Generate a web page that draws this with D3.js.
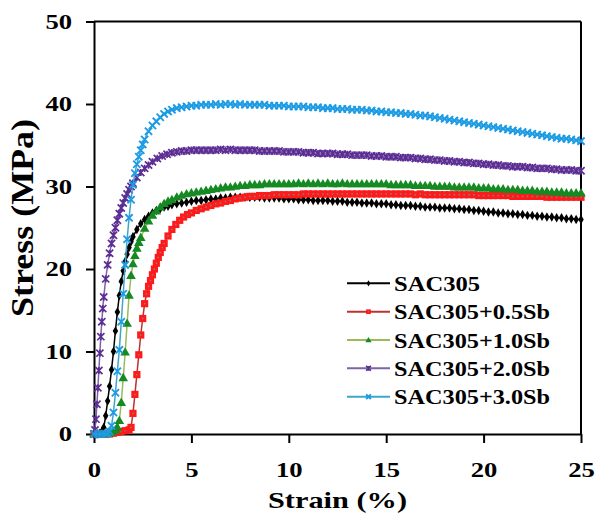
<!DOCTYPE html>
<html>
<head>
<meta charset="utf-8">
<script src="https://cdn.jsdelivr.net/npm/d3@7"></script>
<style>
  html, body { margin: 0; padding: 0; background: #fff; }
  svg { display: block; }
  text { font-family: "Liberation Serif", "Times New Roman", "DejaVu Serif Condensed", "DejaVu Serif", serif; font-weight: bold; fill: #000; }
</style>
</head>
<body>
<svg id="chart" width="598" height="516"></svg>
<script>
// ---- data: tensile stress-strain curves of SAC305 solder with Sb additions ----
const seriesNames = ["SAC305", "SAC305+0.5Sb", "SAC305+1.0Sb", "SAC305+2.0Sb", "SAC305+3.0Sb"];
const xTicks = [0, 5, 10, 15, 20, 25];
const yTicks = [0, 10, 20, 30, 40, 50];

// common strain grid (%) for the flow (plateau) part of every curve
const plateauStrain = [5.25,5.5,5.75,6,6.25,6.5,6.75,7,7.25,7.5,7.75,8,8.25,8.5,8.75,9,9.25,9.5,9.75,10,
  10.25,10.5,10.75,11,11.25,11.5,11.75,12,12.25,12.5,12.75,13,13.25,13.5,13.75,14,14.25,14.5,14.75,15,
  15.25,15.5,15.75,16,16.25,16.5,16.75,17,17.25,17.5,17.75,18,18.25,18.5,18.75,19,19.25,19.5,19.75,20,
  20.25,20.5,20.75,21,21.25,21.5,21.75,22,22.25,22.5,22.75,23,23.25,23.5,23.75,24,24.25,24.5,24.75,25];

// SAC305
const sac305RiseStrain = [0,0.1,0.2,0.3,0.4,0.5,0.6,0.7,0.8,0.9,1.0,1.1,1.2,1.3,1.4,1.5,1.6,1.7,1.8,1.9,2.0,2.2,2.4,2.6,2.8,3.0,3.2,3.4,3.6,3.8,4.0,4.25,4.5,4.75,5.0];
const sac305RiseStress = [0,0,0,0.1,0.3,0.8,2.2,4.0,5.8,7.8,10.0,12.5,14.8,16.8,18.5,19.8,20.9,21.8,22.6,23.3,23.9,24.8,25.5,26.0,26.4,26.8,27.1,27.3,27.5,27.6,27.8,27.9,28.0,28.1,28.2];
const sac305Plateau = [28.3,28.3,28.4,28.5,28.5,28.6,28.6,28.7,28.7,28.7,28.7,28.7,28.7,28.7,28.6,28.6,28.6,28.6,28.5,28.5,
  28.5,28.4,28.4,28.4,28.3,28.3,28.3,28.3,28.2,28.2,28.2,28.1,28.1,28.1,28.0,28.0,28.0,27.9,27.9,27.9,
  27.8,27.8,27.7,27.7,27.7,27.6,27.6,27.5,27.5,27.5,27.4,27.4,27.4,27.3,27.3,27.2,27.2,27.1,27.1,27.0,
  26.9,26.9,26.8,26.8,26.7,26.7,26.6,26.6,26.5,26.5,26.4,26.4,26.3,26.3,26.2,26.2,26.1,26.1,26.0,26.0];

// SAC305+0.5Sb
const sb05RiseStrain = [0,0.2,0.4,0.6,0.8,1.0,1.2,1.4,1.6,1.8,1.9,2.0,2.1,2.2,2.3,2.4,2.5,2.6,2.7,2.8,2.9,3.0,3.1,3.2,3.3,3.4,3.5,3.6,3.8,4.0,4.2,4.4,4.6,4.8,5.0];
const sb05RiseStress = [0,0,0,0,0,0.1,0.2,0.3,0.4,0.5,0.8,2.5,4.8,7.2,9.6,12.0,14.0,15.8,17.0,17.9,18.6,19.3,20.0,20.7,21.4,22.0,22.6,23.1,24.0,24.8,25.4,25.9,26.3,26.6,26.8];
const sb05Plateau = [27.1,27.3,27.5,27.7,27.9,28.0,28.2,28.3,28.5,28.6,28.7,28.8,28.8,28.9,28.9,28.9,29.0,29.0,29.0,29.0,
  29.0,29.0,29.1,29.1,29.1,29.1,29.1,29.1,29.1,29.1,29.1,29.1,29.1,29.1,29.1,29.1,29.1,29.1,29.1,29.1,
  29.1,29.1,29.1,29.1,29.1,29.0,29.1,29.0,29.0,29.0,29.0,29.0,29.0,29.0,29.0,29.0,29.0,29.0,28.9,28.9,
  28.9,28.9,28.9,28.9,28.9,28.8,28.8,28.8,28.8,28.8,28.8,28.8,28.7,28.7,28.7,28.7,28.7,28.7,28.7,28.7];

// SAC305+1.0Sb
const sb10RiseStrain = [0,0.2,0.4,0.6,0.8,1.0,1.1,1.2,1.3,1.4,1.5,1.6,1.7,1.8,1.9,2.0,2.1,2.2,2.3,2.4,2.6,2.8,3.0,3.2,3.4,3.6,3.8,4.0,4.25,4.5,4.75,5.0];
const sb10RiseStress = [0,0,0,0,0.1,0.3,0.5,0.8,1.6,3.8,6.8,9.9,13.4,16.8,19.2,20.6,21.6,22.5,23.2,23.8,24.9,25.8,26.5,27.0,27.5,27.9,28.2,28.4,28.7,28.9,29.1,29.2];
const sb10Plateau = [29.3,29.4,29.5,29.6,29.7,29.8,29.9,29.9,30.0,30.1,30.1,30.2,30.2,30.2,30.3,30.3,30.3,30.3,30.3,30.3,
  30.3,30.4,30.3,30.4,30.3,30.4,30.3,30.4,30.3,30.3,30.4,30.3,30.3,30.3,30.3,30.3,30.3,30.3,30.3,30.3,
  30.2,30.2,30.2,30.2,30.2,30.1,30.1,30.1,30.1,30.0,30.0,30.0,30.0,29.9,29.9,29.9,29.9,29.9,29.8,29.8,
  29.8,29.7,29.7,29.7,29.6,29.6,29.6,29.5,29.5,29.5,29.4,29.4,29.4,29.3,29.3,29.3,29.2,29.2,29.2,29.2];

// SAC305+2.0Sb
const sb20RiseStrain = [0,0.05,0.1,0.15,0.2,0.25,0.3,0.35,0.4,0.45,0.5,0.6,0.7,0.8,0.9,1.0,1.1,1.2,1.3,1.4,1.5,1.6,1.7,1.8,1.9,2.0,2.2,2.4,2.6,2.8,3.0,3.25,3.5,3.75,4.0,4.25,4.5,4.75,5.0];
const sb20RiseStress = [0,0.5,1.8,3.6,5.6,7.7,9.8,11.8,13.6,15.2,16.6,18.8,20.5,21.9,23.1,24.1,25.0,25.9,26.7,27.4,28.0,28.6,29.1,29.6,30.0,30.4,31.1,31.7,32.2,32.6,33.0,33.4,33.7,33.9,34.1,34.2,34.3,34.3,34.4];
const sb20Plateau = [34.4,34.4,34.4,34.4,34.4,34.5,34.4,34.5,34.4,34.4,34.4,34.4,34.4,34.3,34.3,34.3,34.3,34.3,34.2,34.2,
  34.2,34.2,34.1,34.1,34.1,34.0,34.0,34.0,34.0,33.9,33.9,33.9,33.8,33.8,33.8,33.8,33.7,33.7,33.7,33.6,
  33.6,33.6,33.5,33.5,33.5,33.4,33.4,33.3,33.3,33.2,33.2,33.1,33.1,33.0,33.0,32.9,32.9,32.8,32.8,32.7,
  32.7,32.6,32.6,32.5,32.5,32.4,32.4,32.4,32.3,32.3,32.2,32.2,32.2,32.1,32.1,32.0,32.0,32.0,31.9,31.9];

// SAC305+3.0Sb
const sb30RiseStrain = [0,0.2,0.4,0.6,0.7,0.8,0.9,1.0,1.1,1.2,1.3,1.4,1.5,1.6,1.7,1.8,1.9,2.0,2.1,2.2,2.3,2.4,2.5,2.6,2.8,3.0,3.2,3.4,3.6,3.8,4.0,4.25,4.5,4.75,5.0];
const sb30RiseStress = [0,0,0,0,0.1,0.3,1.0,2.6,5.0,7.6,10.2,13.6,17.0,20.5,23.6,26.2,28.4,30.2,31.6,32.7,33.6,34.4,35.1,35.7,36.7,37.4,37.9,38.4,38.8,39.1,39.3,39.5,39.6,39.7,39.8];
const sb30Plateau = [39.8,39.9,39.9,39.9,40.0,39.9,40.0,40.0,39.9,40.0,39.9,39.9,39.9,39.9,39.9,39.8,39.8,39.8,39.8,39.7,
  39.7,39.7,39.7,39.6,39.6,39.6,39.5,39.5,39.5,39.4,39.4,39.4,39.3,39.3,39.3,39.2,39.2,39.1,39.1,39.0,
  39.0,38.9,38.9,38.8,38.8,38.7,38.6,38.6,38.5,38.4,38.3,38.2,38.1,38.0,37.9,37.8,37.7,37.6,37.5,37.4,
  37.3,37.2,37.1,37.0,36.9,36.8,36.7,36.6,36.5,36.4,36.3,36.2,36.1,36.0,35.9,35.8,35.8,35.7,35.6,35.5];

// ---- assemble point lists ----
function assemble(riseStrain, riseStress, plateau) {
  const s = riseStrain.concat(plateauStrain);
  const v = riseStress.concat(plateau);
  return s.map((d, i) => ({ strain: d, stress: v[i] }));
}
const curves = [
  assemble(sac305RiseStrain, sac305RiseStress, sac305Plateau),
  assemble(sb05RiseStrain, sb05RiseStress, sb05Plateau),
  assemble(sb10RiseStrain, sb10RiseStress, sb10Plateau),
  assemble(sb20RiseStrain, sb20RiseStress, sb20Plateau),
  assemble(sb30RiseStrain, sb30RiseStress, sb30Plateau)
];

// ---- styling per series ----
const styles = [
  { line: "#000000", mark: "#000000", kind: "diamond" },
  { line: "#c0302c", mark: "#ff1a1a", kind: "square" },
  { line: "#9bbb59", mark: "#168a22", kind: "triangle" },
  { line: "#7f63a8", mark: "#5c2e94", kind: "asterisk" },
  { line: "#3ea6cc", mark: "#1b9be6", kind: "cross" }
];

const svg = d3.select("#chart");
svg.append("rect").attr("width", 598).attr("height", 516).attr("fill", "#fff");

const x = d3.scaleLinear().domain([0, 25]).range([94, 581]);
const y = d3.scaleLinear().domain([0, 50]).range([434, 21.5]);

// ---- axes ----
const xAxis = svg.append("g").attr("transform", `translate(0,${y(0)})`)
  .call(d3.axisBottom(x).tickValues(xTicks).tickFormat(d3.format("d")).tickSize(9).tickSizeOuter(0).tickPadding(19));
const yAxis = svg.append("g").attr("transform", `translate(${x(0)},0)`)
  .call(d3.axisLeft(y).tickValues(yTicks).tickFormat(d3.format("d")).tickSize(8).tickSizeOuter(0).tickPadding(14));

[xAxis, yAxis].forEach(g => {
  g.select(".domain").attr("stroke", "#000").attr("stroke-width", 2);
  g.selectAll(".tick line").attr("stroke", "#000").attr("stroke-width", 2);
  g.selectAll(".tick text")
    .attr("font-size", 21.5)
    .attr("font-family", null)
    .attr("fill", "#000")
    .attr("textLength", d => String(d).length * 13.3)
    .attr("lengthAdjust", "spacingAndGlyphs");
});

// frame on top and right
svg.append("line").attr("x1", x(0)).attr("x2", x(25)).attr("y1", y(50)).attr("y2", y(50))
  .attr("stroke", "#000").attr("stroke-width", 2);
svg.append("line").attr("x1", x(25)).attr("x2", x(25)).attr("y1", y(50)).attr("y2", y(0))
  .attr("stroke", "#000").attr("stroke-width", 2);

// axis titles
svg.append("text")
  .attr("transform", `translate(33,218) rotate(-90)`)
  .attr("text-anchor", "middle")
  .attr("font-size", 31.5)
  .attr("textLength", 198).attr("lengthAdjust", "spacingAndGlyphs")
  .text("Stress (MPa)");
svg.append("text")
  .attr("x", x(12.5)).attr("y", 508)
  .attr("text-anchor", "middle")
  .attr("font-size", 23.5)
  .attr("textLength", 139).attr("lengthAdjust", "spacingAndGlyphs")
  .text("Strain (%)");

// ---- marker drawing ----
function drawMarker(g, kind, color, cx, cy, s) {
  if (kind === "diamond") {
    g.append("path").attr("d", d3.symbol(d3.symbolDiamond, 26 * s * s)())
      .attr("transform", `translate(${cx},${cy})`).attr("fill", color);
  } else if (kind === "square") {
    const h = 3.6 * s;
    g.append("rect").attr("x", cx - h).attr("y", cy - h).attr("width", 2 * h).attr("height", 2 * h)
      .attr("fill", color);
    g.append("circle").attr("cx", cx).attr("cy", cy).attr("r", 0.9 * s).attr("fill", "#8a7a7a");
  } else if (kind === "triangle") {
    g.append("path").attr("d", d3.symbol(d3.symbolTriangle, 40 * s * s)())
      .attr("transform", `translate(${cx},${cy + 0.5})`).attr("fill", color);
  } else if (kind === "asterisk") {
    const r = 3.6 * s;
    g.append("path")
      .attr("d", `M${cx - r},${cy - r}L${cx + r},${cy + r}M${cx - r},${cy + r}L${cx + r},${cy - r}M${cx},${cy - r}L${cx},${cy + r}`)
      .attr("stroke", color).attr("stroke-width", 1.7).attr("fill", "none");
  } else if (kind === "cross") {
    const r = 3.6 * s;
    g.append("path")
      .attr("d", `M${cx - r},${cy - r}L${cx + r},${cy + r}M${cx - r},${cy + r}L${cx + r},${cy - r}`)
      .attr("stroke", color).attr("stroke-width", 1.9).attr("fill", "none");
  }
}

// ---- curves ----
const line = d3.line().x(d => x(d.strain)).y(d => y(d.stress));
curves.forEach((pts, i) => {
  const st = styles[i];
  const g = svg.append("g").attr("class", "series");
  g.append("path").datum(pts).attr("d", line)
    .attr("fill", "none").attr("stroke", st.line).attr("stroke-width", 1.5);
  pts.forEach(p => drawMarker(g, st.kind, st.mark, x(p.strain), y(p.stress), 1));
});

// ---- legend ----
const legendRows = [283.3, 311.7, 340, 368.3, 396.7];
const legendWidths = [86, 156, 156, 156, 156];
seriesNames.forEach((name, i) => {
  const st = styles[i];
  const g = svg.append("g").attr("class", "legend-item");
  const ry = legendRows[i];
  g.append("line").attr("x1", 347).attr("x2", 390).attr("y1", ry).attr("y2", ry)
    .attr("stroke", st.line).attr("stroke-width", 2);
  drawMarker(g, st.kind, st.mark, 368.5, ry, 0.65);
  g.append("text").attr("x", 394).attr("y", ry + 7.5)
    .attr("font-size", 20.5)
    .attr("textLength", legendWidths[i]).attr("lengthAdjust", "spacingAndGlyphs")
    .text(name);
});
</script>
</body>
</html>
